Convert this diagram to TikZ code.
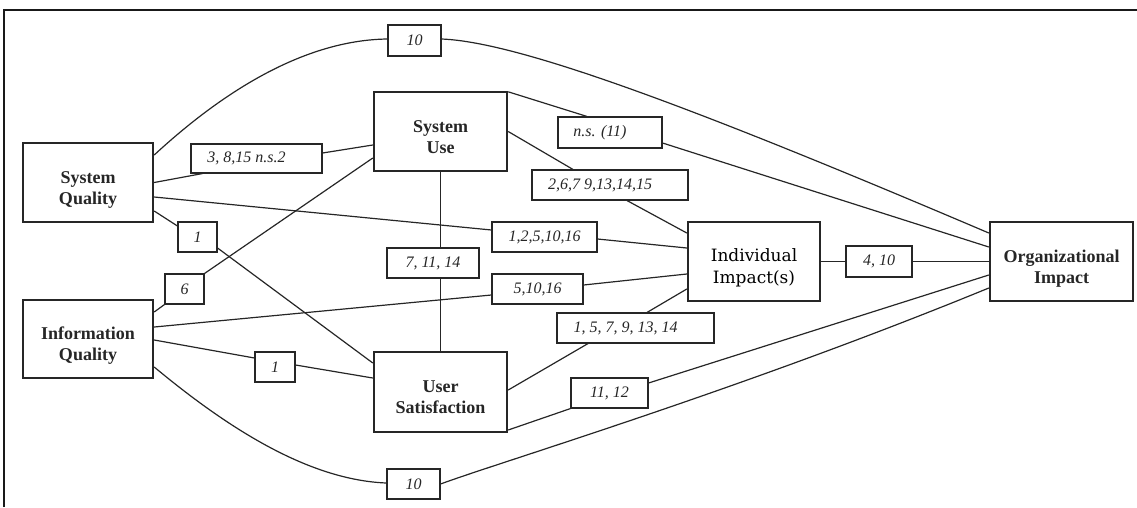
\documentclass[tikz,border=0pt]{standalone}
\usepackage{fontspec}
\setmainfont{Liberation Serif}
\newfontfamily\dvs{DejaVu Serif}
\newcommand\ctext[1]{\raisebox{-7pt}[\height][\depth]{\begin{tabular}{@{}c@{}}#1\end{tabular}}}
\newcommand\lft[1]{#1\hspace*{20pt}}
\begin{document}
\begin{tikzpicture}[x=1pt,y=-1pt,
  construct/.style={draw=black!85, line width=2.4pt, fill=white, inner sep=0pt,
     font=\fontsize{18}{21}\selectfont\bfseries, text=black!85},
  tag/.style={draw=black!85, line width=1.1pt, fill=white, inner sep=0pt,
     font=\fontsize{16}{18}\selectfont\itshape, text=black!85},
  link/.style={draw=black!85, line width=1.2pt}]
\useasboundingbox (0,0) rectangle (1137,507);
\draw[black!90, line width=2pt] (4,507) -- (4,10) -- (1137,10);

% constructs
\node[construct, minimum width=130pt, minimum height=79pt] (sq) at (88,182.5) {\ctext{System\\Quality}};
\node[construct, minimum width=130pt, minimum height=78pt] (iq) at (88,339) {\ctext{Information\\Quality}};
\node[construct, minimum width=133pt, minimum height=79pt] (su) at (440.5,131.5) {\ctext{System\\Use}};
\node[construct, minimum width=133pt, minimum height=80pt] (us) at (440.5,392) {\ctext{User\\Satisfaction}};
\node[construct, minimum width=132pt, minimum height=79pt, font=\fontsize{17}{22}\selectfont\dvs, text=black] (ii) at (754,261.5) {\ctext{Individual\\Impact(s)}};
\node[construct, minimum width=143pt, minimum height=79pt] (oi) at (1061.5,261.5) {\ctext{Organizational\\Impact}};

% tags
\node[tag, minimum width=53pt, minimum height=31pt] (l10t) at (414.5,40.5) {10};
\node[tag, minimum width=131pt, minimum height=29pt] (l3815) at (256.5,158.5) {\lft{3, 8,15 n.s.2}};
\node[tag, minimum width=39pt, minimum height=30pt] (l1a) at (197.5,237) {1};
\node[tag, minimum width=39pt, minimum height=30pt] (l6) at (184.5,289) {6};
\node[tag, minimum width=40pt, minimum height=30pt] (l1b) at (275,367) {1};
\node[tag, minimum width=53pt, minimum height=30pt] (l10b) at (413.5,484) {10};
\node[tag, minimum width=104pt, minimum height=31pt] (lns) at (610,132.5) {\lft{n.s. (11)}};
\node[tag, minimum width=156pt, minimum height=30pt] (l2679) at (610,185) {\lft{2,6,7 9,13,14,15}};
\node[tag, minimum width=105pt, minimum height=30pt] (l12510) at (544.5,237) {1,2,5,10,16};
\node[tag, minimum width=92pt, minimum height=30pt] (l71114) at (433,263) {7, 11, 14};
\node[tag, minimum width=91pt, minimum height=30pt] (l51016) at (537.5,289) {5,10,16};
\node[tag, minimum width=157pt, minimum height=30pt] (l15791314) at (635.5,328) {\lft{1, 5, 7, 9, 13, 14}};
\node[tag, minimum width=77pt, minimum height=30pt] (l1112) at (609.5,393) {11, 12};
\node[tag, minimum width=66pt, minimum height=31pt] (l410) at (879,261.5) {4, 10};

% connectors
\draw[link] ([yshift=27.5pt]sq.east) .. controls (230,85) and (310,40) .. ([yshift=1.5pt]l10t.west);
\draw[link] ([yshift=1.5pt]l10t.east) .. controls (520,42) and (700,110) .. ([yshift=28.5pt]oi.west);

\draw[link] (sq.east) -- ([xshift=12pt]l3815.south west);
\draw[link] ([yshift=5.5pt]l3815.east) -- ([yshift=-13.5pt]su.west);

\draw[link] ([yshift=-28.5pt]sq.east) -- ([yshift=11pt]l1a.west);
\draw[link] ([yshift=-11pt]l1a.east) -- ([yshift=29pt]us.west);

\draw[link] ([yshift=27pt]iq.east) -- (l6.south west);
\draw[link] (l6.north east) -- ([yshift=-26.5pt]su.west);

\draw[link] ([yshift=-14.5pt]sq.east) -- ([yshift=7pt]l12510.west);
\draw[link] ([yshift=-2pt]l12510.east) -- ([yshift=13.5pt]ii.west);

\draw[link] ([yshift=12pt]iq.east) -- ([yshift=-6pt]l51016.west);
\draw[link] ([yshift=4pt]l51016.east) -- ([yshift=-12.5pt]ii.west);

\draw[link] ([yshift=-1pt]iq.east) -- ([yshift=9pt]l1b.west);
\draw[link] ([yshift=2pt]l1b.east) -- ([yshift=14pt]us.west);

\draw[link] ([yshift=-28pt]iq.east) .. controls (230,430) and (310,480) .. ([yshift=1pt]l10b.west);
\draw[link] (l10b.east) .. controls (500,462) and (740,390) .. ([yshift=-26.5pt]oi.west);

\draw[link] ([yshift=-1pt]su.north east) -- ([xshift=-23pt]lns.north);
\draw[link] ([yshift=-10.5pt]lns.east) -- ([yshift=14.5pt]oi.west);

\draw[link] (su.east) -- ([xshift=-37pt]l2679.north);
\draw[link] ([xshift=17pt]l2679.south) -- ([yshift=28.5pt]ii.west);

\draw[link] (su.south) -- ([xshift=7.5pt]l71114.north);
\draw[link] ([xshift=7.5pt]l71114.south) -- (us.north);

\draw[link] ([yshift=2pt]us.east) -- ([xshift=-47.5pt]l15791314.south);
\draw[link] ([xshift=11.5pt]l15791314.north) -- ([yshift=-27.5pt]ii.west);

\draw[link] ([yshift=-38pt]us.east) -- (l1112.south west);
\draw[link] ([yshift=10pt]l1112.east) -- ([yshift=-13.5pt]oi.west);

\draw[link] (ii.east) -- (l410.west);
\draw[link] (l410.east) -- (oi.west);
\end{tikzpicture}
\end{document}
